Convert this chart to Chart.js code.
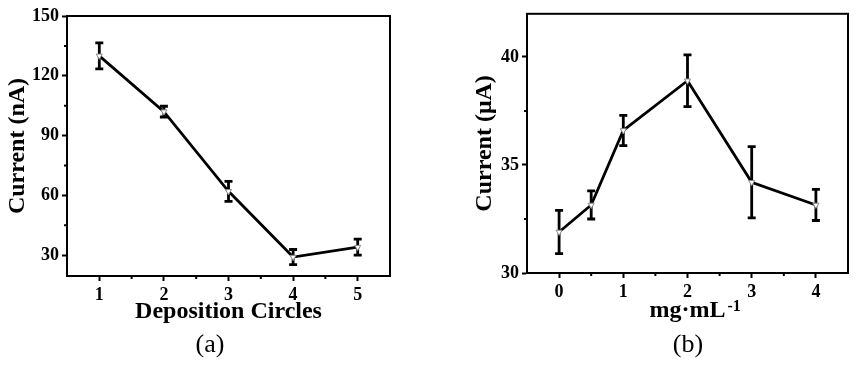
<!DOCTYPE html>
<html>
<head>
<meta charset="utf-8">
<script src="https://cdn.jsdelivr.net/npm/chart.js@4.4.1/dist/chart.umd.min.js"></script>
<style>
  html, body { margin: 0; padding: 0; background: #fff; }
  #wrap { position: relative; width: 862px; height: 368px; }
  canvas { position: absolute; top: 0; }
  .tag { position: absolute; top: 331px; font: 26px/26px "Liberation Serif", "Times New Roman", serif; color: #000; transform: translateX(-50%); }
</style>
</head>
<body>
<div id="wrap">
  <canvas id="chartA" width="431" height="368" style="left:0"></canvas>
  <canvas id="chartB" width="431" height="368" style="left:431px"></canvas>
  <div class="tag" style="left:210px">(a)</div>
  <div class="tag" style="left:688px">(b)</div>
</div>
<script>
// (a) current vs deposition circles
const circles = [1, 2, 3, 4, 5];
const circlesCurrent = [130, 102, 62, 29, 34];
const circlesError = [6.5, 2.7, 5, 3.8, 4];
const circlesXTicks = [1, 2, 3, 4, 5];
const circlesYTicks = [30, 60, 90, 120, 150];

// (b) current vs concentration
const conc = [0, 0.5, 1, 2, 3, 4];
const concCurrent = [31.9, 33.15, 36.6, 38.9, 34.2, 33.15];
const concError = [1.0, 0.65, 0.7, 1.2, 1.65, 0.72];
const concXTicks = [0, 1, 2, 3, 4];
const concYTicks = [30, 35, 40];

Chart.defaults.font.family = '"Liberation Serif", "Times New Roman", serif';
Chart.defaults.color = '#000';

// error bars, outer frame and minor ticks
const frameAndBars = {
    id: 'frameAndBars',
    beforeDatasetsDraw(chart, args, opts) {
        const { ctx } = chart;
        const xs = chart.scales.x, ys = chart.scales.y;
        ctx.save();
        ctx.strokeStyle = '#000';
        ctx.lineWidth = 2.8;
        chart.data.datasets[0].data.forEach((p, i) => {
            const e = opts.errors[i];
            const px = xs.getPixelForValue(p.x);
            const top = ys.getPixelForValue(p.y + e);
            const bot = ys.getPixelForValue(p.y - e);
            ctx.beginPath();
            ctx.moveTo(px, top); ctx.lineTo(px, bot);
            ctx.moveTo(px - 4, top); ctx.lineTo(px + 4, top);
            ctx.moveTo(px - 4, bot); ctx.lineTo(px + 4, bot);
            ctx.stroke();
        });
        ctx.restore();
    },
    afterDraw(chart, args, opts) {
        const { ctx, chartArea: a } = chart;
        const xs = chart.scales.x, ys = chart.scales.y;
        ctx.save();
        ctx.strokeStyle = '#000';
        ctx.lineWidth = 2;
        ctx.strokeRect(a.left, a.top, a.right - a.left, a.bottom - a.top);
        ctx.beginPath();
        opts.minorX.forEach(v => {
            const px = xs.getPixelForValue(v);
            ctx.moveTo(px, a.bottom); ctx.lineTo(px, a.bottom + 3);
        });
        opts.minorY.forEach(v => {
            const py = ys.getPixelForValue(v);
            ctx.moveTo(a.left, py); ctx.lineTo(a.left - 3, py);
        });
        ctx.stroke();
        // superscript after the x title
        if (opts.sup) {
            const t = xs.options.title;
            ctx.font = 'bold 24px ' + Chart.defaults.font.family;
            const w = ctx.measureText(t.text).width;
            const cx = (xs.left + xs.right) / 2;
            const ty = xs.bottom - t.padding.bottom - 12;
            ctx.font = 'bold 16px ' + Chart.defaults.font.family;
            ctx.fillStyle = '#000';
            ctx.textBaseline = 'alphabetic';
            ctx.textAlign = 'left';
            ctx.fillText(opts.sup, cx + w / 2 + 2, ty);
        }
        ctx.restore();
    }
};

function makeChart(id, cfg) {
    const grid = { display: true, drawOnChartArea: false, drawTicks: true, tickLength: 5, tickWidth: 2, tickColor: '#000' };
    const border = { display: true, color: '#000', width: 2 };
    return new Chart(document.getElementById(id).getContext('2d'), {
        type: 'line',
        data: {
            datasets: [{
                data: cfg.xs.map((x, i) => ({ x: x, y: cfg.ys[i] })),
                borderColor: '#000',
                borderWidth: 2.8,
                tension: 0,
                pointStyle: 'triangle',
                pointRotation: 180,
                pointRadius: 3.5,
                pointBackgroundColor: '#fff',
                pointBorderColor: '#888',
                pointBorderWidth: 1,
            }],
        },
        options: {
            responsive: false,
            animation: false,
            layout: { padding: cfg.padding },
            plugins: {
                legend: { display: false },
                tooltip: { enabled: false },
                frameAndBars: { errors: cfg.errors, minorX: cfg.minorX, minorY: cfg.minorY, sup: cfg.sup },
            },
            scales: {
                x: {
                    type: 'linear', min: cfg.xRange[0], max: cfg.xRange[1],
                    afterBuildTicks: s => { s.ticks = cfg.xTicks.map(v => ({ value: v })); },
                    afterFit: s => { s.height = cfg.xHeight; },
                    grid: grid, border: border,
                    ticks: { color: '#000', font: { size: 18, weight: 'bold' }, padding: 4 },
                    title: { display: true, text: cfg.xTitle, color: '#000', font: { size: 24, weight: 'bold', lineHeight: 1 }, padding: { top: 0, bottom: cfg.xTitlePad } },
                },
                y: {
                    type: 'linear', min: cfg.yRange[0], max: cfg.yRange[1],
                    afterBuildTicks: s => { s.ticks = cfg.yTicks.map(v => ({ value: v })); },
                    afterFit: s => { s.width = cfg.yWidth; },
                    grid: grid, border: border,
                    ticks: { color: '#000', font: { size: 18, weight: 'bold' }, padding: 3 },
                    title: { display: true, text: cfg.yTitle, color: '#000', font: { size: 24, weight: 'bold', lineHeight: 1 }, padding: { top: cfg.yTitlePad, bottom: 0 } },
                },
            },
        },
        plugins: [frameAndBars],
    });
}

makeChart('chartA', {
    xs: circles, ys: circlesCurrent, errors: circlesError,
    xTicks: circlesXTicks, yTicks: circlesYTicks,
    xRange: [0.5, 5.5], yRange: [19.5, 150],
    minorX: [1.5, 2.5, 3.5, 4.5], minorY: [45, 75, 105, 135],
    xTitle: 'Deposition Circles', yTitle: 'Current (nA)',
    padding: { left: 0, top: 16, right: 41, bottom: 0 },
    xHeight: 92, yWidth: 67, xTitlePad: 44, yTitlePad: 6,
});

makeChart('chartB', {
    xs: conc, ys: concCurrent, errors: concError,
    xTicks: concXTicks, yTicks: concYTicks,
    xRange: [-0.5, 4.5], yRange: [30, 42],
    minorX: [0.5, 1.5, 2.5, 3.5], minorY: [32.5, 37.5],
    xTitle: 'mg·mL', sup: '-1', yTitle: 'Current (μA)',
    padding: { left: 0, top: 13, right: 14, bottom: 0 },
    xHeight: 95, yWidth: 96, xTitlePad: 45, yTitlePad: 42,
});
</script>
</body>
</html>
